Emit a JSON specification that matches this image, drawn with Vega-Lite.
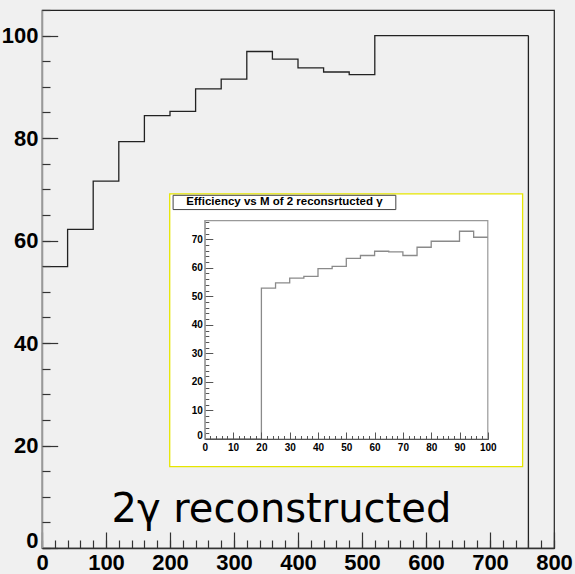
{
  "$schema": "https://vega.github.io/schema/vega-lite/v6.json",
  "width": 512,
  "height": 538,
  "autosize": {"type": "none"},
  "padding": {"left": 42, "top": 10, "right": 21, "bottom": 26},
  "background": "#f0f0f0",
  "config": {
    "view": {"stroke": "#222222", "strokeWidth": 1.2, "fill": "#f0f0f0"},
    "axis": {"grid": false, "title": null, "labelOverlap": false, "labelFlush": false, "labelColor": "#000000", "tickColor": "#333333", "tickWidth": 1.2}
  },
  "datasets": {
    "massScan": [
      {"lo": 0, "hi": 40, "eff": 54.9},
      {"lo": 40, "hi": 80, "eff": 62.2},
      {"lo": 80, "hi": 120, "eff": 71.6},
      {"lo": 120, "hi": 160, "eff": 79.3},
      {"lo": 160, "hi": 200, "eff": 84.4},
      {"lo": 200, "hi": 240, "eff": 85.2},
      {"lo": 240, "hi": 280, "eff": 89.6},
      {"lo": 280, "hi": 320, "eff": 91.5},
      {"lo": 320, "hi": 360, "eff": 96.9},
      {"lo": 360, "hi": 400, "eff": 95.4},
      {"lo": 400, "hi": 440, "eff": 93.7},
      {"lo": 440, "hi": 480, "eff": 92.9},
      {"lo": 480, "hi": 520, "eff": 92.4},
      {"lo": 520, "hi": 560, "eff": 100},
      {"lo": 560, "hi": 600, "eff": 100},
      {"lo": 600, "hi": 640, "eff": 100},
      {"lo": 640, "hi": 680, "eff": 100},
      {"lo": 680, "hi": 720, "eff": 100},
      {"lo": 720, "hi": 760, "eff": 100}
    ],
    "efficiencyVsM": [
      {"lo": 0, "hi": 5, "eff": 0},
      {"lo": 5, "hi": 10, "eff": 0},
      {"lo": 10, "hi": 15, "eff": 0},
      {"lo": 15, "hi": 20, "eff": 0},
      {"lo": 20, "hi": 25, "eff": 52.9},
      {"lo": 25, "hi": 30, "eff": 54.7},
      {"lo": 30, "hi": 35, "eff": 56.4},
      {"lo": 35, "hi": 40, "eff": 57.0},
      {"lo": 40, "hi": 45, "eff": 59.7},
      {"lo": 45, "hi": 50, "eff": 60.5},
      {"lo": 50, "hi": 55, "eff": 63.3},
      {"lo": 55, "hi": 60, "eff": 64.3},
      {"lo": 60, "hi": 65, "eff": 65.8},
      {"lo": 65, "hi": 70, "eff": 65.6},
      {"lo": 70, "hi": 75, "eff": 64.3},
      {"lo": 75, "hi": 80, "eff": 67.2},
      {"lo": 80, "hi": 85, "eff": 69.3},
      {"lo": 85, "hi": 90, "eff": 69.3},
      {"lo": 90, "hi": 95, "eff": 72.8},
      {"lo": 95, "hi": 100, "eff": 70.7}
    ]
  },
  "layer": [
    {
      "layer": [
        {
          "data": {"name": "massScan"},
          "transform": [{"fold": ["lo", "hi"], "as": ["edgeKind", "edge"]}],
          "mark": {"type": "line", "color": "#222222", "strokeWidth": 1.3},
          "encoding": {
            "x": {
              "field": "edge", "type": "quantitative",
              "scale": {"domain": [0, 800], "nice": false, "zero": false},
              "axis": {
                "orient": "bottom", "zindex": 1,
                "values": [0, 100, 200, 300, 400, 500, 600, 700, 800],
                "tickSize": -16, "labelPadding": 20,
                "domainColor": "#333333", "domainWidth": 1.3,
                "labelFont": "Liberation Sans Narrow, Liberation Sans", "labelFontWeight": "bold", "labelFontSize": 22,
                "labelBaseline": "top", "labelAlign": "center"
              }
            },
            "y": {
              "field": "eff", "type": "quantitative",
              "scale": {"domain": [0, 105], "nice": false, "zero": true},
              "axis": {
                "orient": "left", "zindex": 1,
                "values": [0, 20, 40, 60, 80, 100],
                "tickSize": -15.7, "labelPadding": 19.7,
                "domainColor": "#999999", "domainWidth": 1.6,
                "labelFont": "Liberation Sans Narrow, Liberation Sans", "labelFontWeight": "bold", "labelFontSize": 22,
                "labelBaseline": "middle", "labelAlign": "right",
                "labelOffset": {"condition": {"test": "datum.value == 0", "value": -8}, "value": 0}
              }
            },
            "order": [
              {"field": "edge", "type": "quantitative"},
              {"field": "edgeKind", "type": "nominal"}
            ]
          }
        },
        {
          "data": {"name": "massScan"},
          "transform": [
            {"joinaggregate": [{"op": "max", "field": "hi", "as": "lastEdge"}]},
            {"filter": "datum.hi == datum.lastEdge"}
          ],
          "mark": {"type": "rule", "color": "#222222", "strokeWidth": 1.3},
          "encoding": {
            "x": {
              "field": "hi", "type": "quantitative",
              "axis": {
                "orient": "bottom", "zindex": 1,
                "values": [0, 20, 40, 60, 80, 100, 120, 140, 160, 180, 200, 220, 240, 260, 280, 300, 320, 340, 360, 380, 400, 420, 440, 460, 480, 500, 520, 540, 560, 580, 600, 620, 640, 660, 680, 700, 720, 740, 760, 780, 800],
                "tickSize": -8, "labels": false, "domain": false
              }
            },
            "y": {
              "field": "eff", "type": "quantitative",
              "axis": {
                "orient": "left", "zindex": 1,
                "values": [0, 5, 10, 15, 20, 25, 30, 35, 40, 45, 50, 55, 60, 65, 70, 75, 80, 85, 90, 95, 100, 105],
                "tickSize": -8, "labels": false, "domain": false
              }
            },
            "y2": {"datum": 0}
          }
        },
        {
          "data": {"values": [{}]},
          "mark": {"type": "text", "text": "2γ reconstructed", "font": "DejaVu Sans", "fontSize": 40, "align": "center", "baseline": "alphabetic", "color": "#000000"},
          "encoding": {
            "x": {"datum": 374, "type": "quantitative", "axis": null},
            "y": {"datum": 5.1, "type": "quantitative", "axis": null}
          }
        }
      ],
      "resolve": {"axis": {"x": "independent", "y": "independent"}}
    },
    {
      "layer": [
        {
          "data": {"values": [{}]},
          "mark": {"type": "rect", "fill": "#ffffff", "stroke": "#e6e600", "strokeWidth": 1.3},
          "encoding": {
            "x": {"datum": -12.4, "type": "quantitative", "axis": null},
            "x2": {"datum": 112.3},
            "y": {"datum": -9.7, "type": "quantitative", "axis": null},
            "y2": {"datum": 85.9}
          }
        },
        {
          "data": {"values": [{}]},
          "mark": {"type": "rect", "fill": "#ffffff", "stroke": "#444444", "strokeWidth": 1},
          "encoding": {
            "x": {"datum": -11.2, "type": "quantitative", "axis": null},
            "x2": {"datum": 67.5},
            "y": {"datum": 80.4, "type": "quantitative", "axis": null},
            "y2": {"datum": 85.4}
          }
        },
        {
          "data": {"values": [{}]},
          "mark": {"type": "text", "text": "Efficiency vs M of 2 reconsrtucted γ", "font": "Liberation Sans", "fontWeight": "bold", "fontSize": 11.5, "align": "center", "baseline": "middle", "color": "#000000"},
          "encoding": {
            "x": {"datum": 28.15, "type": "quantitative", "axis": null},
            "y": {"datum": 82.9, "type": "quantitative", "axis": null}
          }
        },
        {
          "data": {"values": [{}]},
          "mark": {"type": "rect", "fill": null, "stroke": "#999999", "strokeWidth": 1.2},
          "encoding": {
            "x": {
              "datum": 0, "type": "quantitative",
              "axis": {
                "orient": "bottom", "offset": -109, "zindex": 1,
                "values": [0, 2, 4, 6, 8, 10, 12, 14, 16, 18, 20, 22, 24, 26, 28, 30, 32, 34, 36, 38, 40, 42, 44, 46, 48, 50, 52, 54, 56, 58, 60, 62, 64, 66, 68, 70, 72, 74, 76, 78, 80, 82, 84, 86, 88, 90, 92, 94, 96, 98, 100],
                "tickSize": -3.5, "tickColor": "#555555", "tickWidth": 1, "labels": false, "domain": false
              }
            },
            "x2": {"datum": 100},
            "y": {
              "datum": 0, "type": "quantitative",
              "axis": {
                "orient": "left", "offset": -162.8, "zindex": 1,
                "values": [0, 2, 4, 6, 8, 10, 12, 14, 16, 18, 20, 22, 24, 26, 28, 30, 32, 34, 36, 38, 40, 42, 44, 46, 48, 50, 52, 54, 56, 58, 60, 62, 64, 66, 68, 70, 72, 74, 76],
                "tickSize": -4, "tickColor": "#555555", "tickWidth": 1, "labels": false, "domain": false
              }
            },
            "y2": {"datum": 76.5}
          }
        },
        {
          "data": {"name": "efficiencyVsM"},
          "transform": [{"fold": ["lo", "hi"], "as": ["edgeKind", "edge"]}],
          "mark": {"type": "line", "color": "#8a8a8a", "strokeWidth": 1.3},
          "encoding": {
            "x": {
              "field": "edge", "type": "quantitative",
              "scale": {"domain": [0, 100], "nice": false, "zero": false, "range": [162.8, 445.8]},
              "axis": {
                "orient": "bottom", "offset": -109, "zindex": 1,
                "values": [0, 10, 20, 30, 40, 50, 60, 70, 80, 90, 100],
                "tickSize": -7, "labelPadding": 10, "tickColor": "#555555", "tickWidth": 1,
                "domain": true, "domainColor": "#555555", "domainWidth": 1,
                "labelFont": "Liberation Sans", "labelFontWeight": "bold", "labelFontSize": 10,
                "labelBaseline": "top", "labelAlign": "center"
              }
            },
            "y": {
              "field": "eff", "type": "quantitative",
              "scale": {"domain": [0, 76.5], "nice": false, "zero": true, "range": [429, 210.7]},
              "axis": {
                "orient": "left", "offset": -162.8, "zindex": 1,
                "values": [0, 10, 20, 30, 40, 50, 60, 70],
                "tickSize": -8, "labelPadding": 10.5, "tickColor": "#555555", "tickWidth": 1,
                "domain": true, "domainColor": "#999999", "domainWidth": 1,
                "labelFont": "Liberation Sans", "labelFontWeight": "bold", "labelFontSize": 10,
                "labelBaseline": "middle", "labelAlign": "right",
                "labelOffset": {"condition": {"test": "datum.value == 0", "value": -4}, "value": 0}
              }
            },
            "order": [
              {"field": "edge", "type": "quantitative"},
              {"field": "edgeKind", "type": "nominal"}
            ]
          }
        }
      ],
      "resolve": {"axis": {"x": "independent", "y": "independent"}}
    }
  ],
  "resolve": {"scale": {"x": "independent", "y": "independent"}}
}
